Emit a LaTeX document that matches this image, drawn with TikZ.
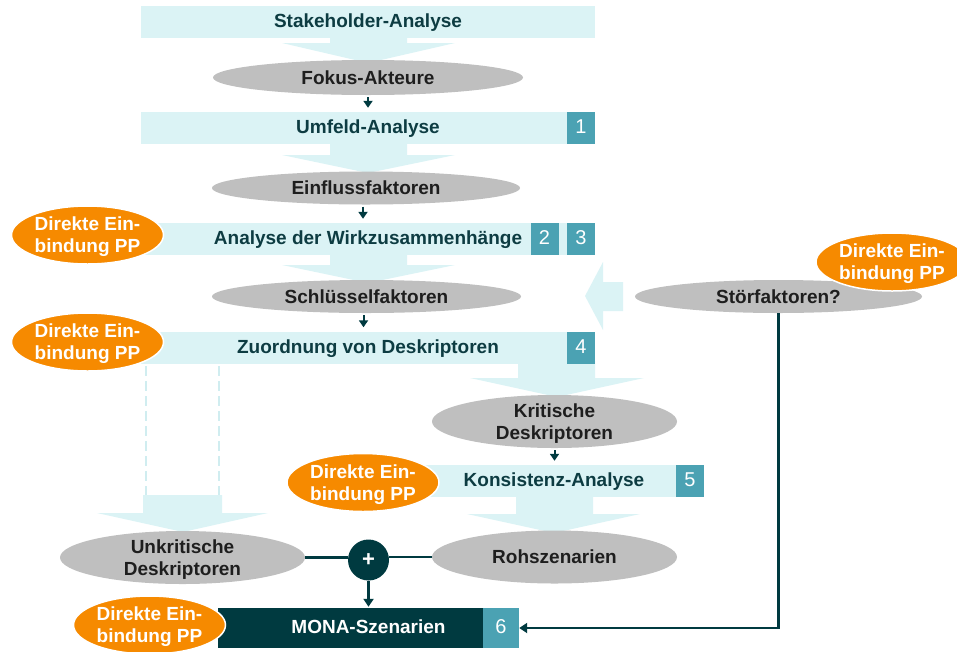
\documentclass[tikz,border=0pt]{standalone}
\usepackage{fontspec}
\setmainfont{Liberation Sans}
\usetikzlibrary{shapes.geometric,arrows.meta}
\definecolor{bandc}{HTML}{DBF3F5}
\definecolor{dashc}{HTML}{D0EDF0}
\definecolor{numc}{HTML}{4BA2B3}
\definecolor{tealc}{HTML}{003A40}
\definecolor{bandtxt}{HTML}{0D3C42}
\definecolor{grayc}{HTML}{BFBFBF}
\definecolor{graytxt}{HTML}{1E1E1E}
\definecolor{orangec}{HTML}{F68A00}
\begin{document}
\begin{tikzpicture}[x=1pt,y=-1pt,
 txt/.style={font=\fontsize{19}{22}\selectfont\bfseries},
 oneline/.style={text height=11, text depth=0},
 band/.style={txt, oneline, fill=bandc, inner sep=0, minimum height=32, text=bandtxt},
 numbox/.style={oneline, fill=numc, inner sep=0, minimum width=28, minimum height=32, text=white, font=\fontsize{20}{22}\selectfont},
 gell/.style={txt, ellipse, fill=grayc, inner sep=0, text=graytxt, align=center, text depth=0},
 oell/.style={txt, ellipse, fill=orangec, draw=white, line width=1.5, inner sep=0, minimum width=152, minimum height=58, text=white, align=center, text depth=0},
 blockarrow/.style={fill=bandc},
 conn/.style={draw=tealc, line width=2.5},
 smallarrow/.style={draw=tealc, line width=2, -{Triangle[width=9,length=7]}, shorten >=4, shorten <=2},
 bigarrow/.style={draw=tealc, line width=2.5, -{Triangle[width=10,length=8]}},
 dashline/.style={draw=dashc, line width=2.5, dash pattern=on 10 off 5},
]
\useasboundingbox (0,0) rectangle (957,651);

% block arrows
\fill[blockarrow] (330,36) -- (330,43) -- (282,43) -- (368,63) -- (455,43) -- (407,43) -- (407,36) -- cycle;
\fill[blockarrow] (330,142) -- (330,155) -- (282,155) -- (368,173) -- (455,155) -- (407,155) -- (407,142) -- cycle;
\fill[blockarrow] (330,252) -- (330,265) -- (282,265) -- (368,283) -- (455,265) -- (407,265) -- (407,252) -- cycle;
\fill[blockarrow] (518,361) -- (518,378) -- (470,378) -- (557,397) -- (644,378) -- (595,378) -- (595,361) -- cycle;
\fill[blockarrow] (516,495) -- (516,514) -- (467,514) -- (554,533) -- (640,514) -- (593,514) -- (593,495) -- cycle;
\fill[blockarrow] (143,495) -- (143,513) -- (97,513) -- (183,532) -- (268,513) -- (222,513) -- (222,495) -- cycle;
\fill[blockarrow] (623,282) -- (603,282) -- (603,262) -- (585,296) -- (603,330) -- (603,311) -- (623,311) -- cycle;

% dashed lines
\draw[dashline] (146,366) -- (146,495);
\draw[dashline] (219,366) -- (219,495);

% bands
\node[band, minimum width=454] (stake) at (368,22) {Stakeholder-Analyse};
\node[band, minimum width=454] (umf) at (368,128) {Umfeld-Analyse};
\node[numbox] (n1) at (581,128) {1};
\node[band, minimum width=454] (anal) at (368,239) {Analyse der Wirkzusammenhänge};
\node[numbox] (n2) at (544.5,239) {2};
\node[numbox] (n3) at (581,239) {3};
\node[band, minimum width=454] (zuord) at (368,347.5) {Zuordnung von Deskriptoren};
\node[numbox] (n4) at (581,347.5) {4};
\node[band, minimum width=300] (kons) at (554,481) {Konsistenz-Analyse};
\node[numbox] (n5) at (690,481) {5};
\node[txt, oneline, fill=tealc, inner sep=0, minimum width=301, minimum height=40, text=white] (mona) at (368.5,628) {MONA-Szenarien};
\node[numbox, minimum width=36, minimum height=40] (n6) at (501,628) {6};

% gray ellipses
\node[gell, minimum width=310, minimum height=35] (fokus) at (368,77.5) {Fokus-Akteure};
\node[gell, minimum width=308, minimum height=33] (einf) at (366,188) {Einflussfaktoren};
\node[gell, minimum width=309, minimum height=33] (schl) at (366.5,296.5) {Schlüsselfaktoren};
\node[gell, minimum width=287, minimum height=33] (stoer) at (778.5,296.5) {Störfaktoren?};
\node[gell, minimum width=245, minimum height=53] (krit) at (554.5,421.5) {Kritische\\Deskriptoren};
\node[gell, minimum width=245, minimum height=53] (roh) at (554.5,557) {Rohszenarien};
\node[gell, minimum width=245, minimum height=53] (unk) at (182.5,557.5) {Unkritische\\Deskriptoren};

% plus
\node[circle, fill=tealc, minimum size=41, inner sep=0, text=white, font=\fontsize{22}{22}\selectfont\bfseries] (plus) at (368.5,560) {+};

% orange ellipses
\node[oell] (o1) at (87.5,235) {Direkte Ein-\\bindung PP};
\node[oell] (o2) at (87.5,342) {Direkte Ein-\\bindung PP};
\node[oell] (o3) at (363,482.5) {Direkte Ein-\\bindung PP};
\node[oell] (o4) at (149.5,625) {Direkte Ein-\\bindung PP};
\node[oell] (o5) at (892,262) {Direkte Ein-\\bindung PP};

% connectors
\draw[smallarrow] (fokus.south) -- (fokus.south |- umf.north);
\draw[smallarrow] ([xshift=-3pt]einf.south) -- ([xshift=-3pt]einf.south |- anal.north);
\draw[smallarrow] ([xshift=-3pt]schl.south) -- ([xshift=-3pt]schl.south |- zuord.north);
\draw[smallarrow] (krit.south) -- (krit.south |- kons.north);
\draw[conn] (unk.east) -- (unk.east -| plus.west);
\draw[conn] (roh.west) -- (roh.west -| plus.east);
\draw[bigarrow, shorten >=1] (plus.south) -- (plus.south |- mona.north);
\draw[bigarrow] (stoer.south) |- (n6.east);
\end{tikzpicture}
\end{document}
